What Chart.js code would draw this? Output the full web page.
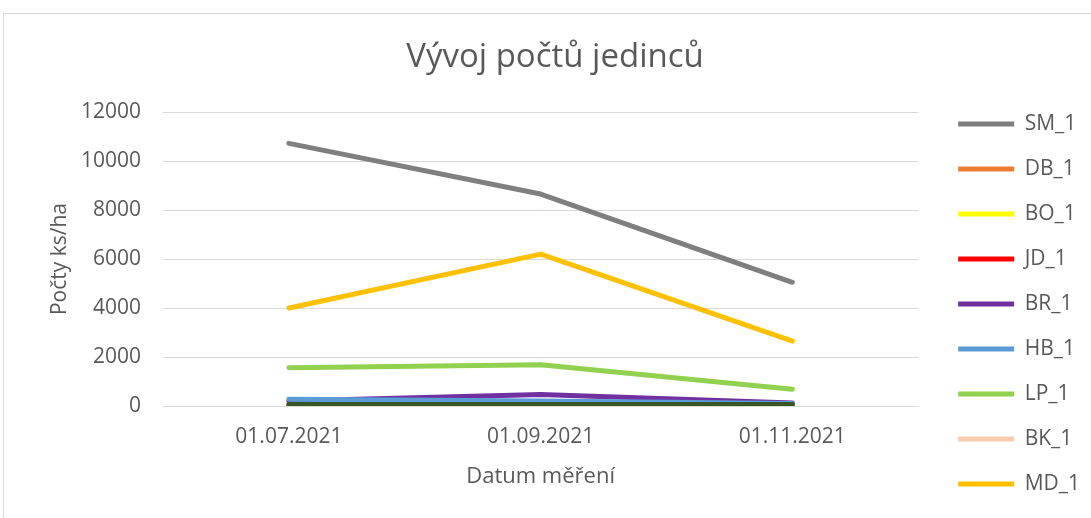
<!DOCTYPE html>
<html>
<head>
<meta charset="utf-8">
<script src="https://cdn.jsdelivr.net/npm/chart.js@4.4.0/dist/chart.umd.min.js"></script>
<style>
html, body { margin: 0; padding: 0; background: #fff; overflow: hidden; width: 1091px; height: 518px; }
#frame { position: absolute; left: 3px; top: 13px; width: 1100px; height: 625px; border: 1px solid #d9d9d9; }
</style>
</head>
<body>
<div id="frame"><canvas id="ShowChart" width="1100" height="625"></canvas></div>
<script>
var Dates = ["01.07.2021", "01.09.2021", "01.11.2021"]
var Series_Names = ["SM_1", "DB_1", "BO_1", "JD_1", "BR_1", "HB_1", "LP_1", "BK_1", "MD_1", "OL_1"]
var Series_Colors = ["#7f7f7f", "#ed7d31", "#ffff00", "#ff0000", "#7030a0", "#5b9bd5", "#92d050", "#f8cbad", "#ffc000", "#375623"]

var SM_1 = [10720, 8650, 5050]
var DB_1 = [20, 30, 10]
var BO_1 = [0, 10, 0]
var JD_1 = [10, 20, 10]
var BR_1 = [200, 470, 120]
var HB_1 = [280, 200, 100]
var LP_1 = [1560, 1680, 680]
var BK_1 = [0, 10, 0]
var MD_1 = [4000, 6200, 2650]
var OL_1 = [60, 60, 60]
var Series_Values = [SM_1, DB_1, BO_1, JD_1, BR_1, HB_1, LP_1, BK_1, MD_1, OL_1]

var Y_Ticks = [0, 2000, 4000, 6000, 8000, 10000, 12000]
var Text_Color = "#595959"
var Grid_Color = "#d9d9d9"

var Dataset = []
for (var i = 0; i < Series_Names.length; i++){
  Dataset.push({
    label: Series_Names[i],
    data: Series_Values[i],
    borderColor: Series_Colors[i],
    backgroundColor: Series_Colors[i],
    borderWidth: 5,
    borderCapStyle: "round",
    borderJoinStyle: "round",
    pointRadius: 0,
    tension: 0,
    order: -i   // later series drawn on top
  })
}

var Show_Chart = {
  type: "line",
  data: {
    labels: Dates,
    datasets: Dataset
  },
  options: {
    responsive: false,
    animation: false,
    layout: { padding: { top: 0, left: 16, bottom: 0, right: 14 } },
    plugins: {
      title: {
        display: true,
        text: "Vývoj počtů jedinců",
        color: Text_Color,
        font: { family: "Open Sans", size: 33, weight: "normal" },
        padding: { top: 24.2, bottom: 34.2 }
      },
      legend: {
        position: "right",
        labels: {
          color: Text_Color,
          font: { family: "Open Sans", size: 21 },
          usePointStyle: true,
          pointStyle: "line",
          pointStyleWidth: 56,
          padding: 24,
          sort: function(a, b){ return a.datasetIndex - b.datasetIndex }
        }
      },
      tooltip: { enabled: false }
    },
    scales: {
      x: {
        offset: true,
        grid: { display: false, drawTicks: false, offset: true },
        border: { color: Grid_Color },
        ticks: {
          color: Text_Color,
          font: { family: "Open Sans", size: 21 },
          padding: 18.4,
          maxRotation: 0,
          autoSkip: false
        },
        title: {
          display: true,
          text: "Datum měření",
          color: Text_Color,
          font: { family: "Open Sans", size: 22 },
          padding: { top: -4.2, bottom: 148.8 }
        }
      },
      y: {
        min: 0,
        max: 12000,
        afterBuildTicks: function(axis){ axis.ticks = Y_Ticks.map(function(v){ return { value: v } }) },
        grid: { color: Grid_Color, drawTicks: false },
        border: { display: false },
        ticks: {
          color: Text_Color,
          font: { family: "Open Sans", size: 21 },
          padding: 22,
          callback: function(v){ return String(v) }
        },
        title: {
          display: true,
          text: "Počty ks/ha",
          color: Text_Color,
          font: { family: "Open Sans", size: 21 },
          padding: { top: 27.4, bottom: -13.6 }
        }
      },
      gap: {
        type: "linear",
        position: "right",
        display: true,
        grid: { display: false, drawTicks: false },
        border: { display: false },
        ticks: { display: false },
        title: { display: true, text: "", font: { size: 10 }, padding: { top: 2, bottom: 2 } }
      }
    }
  }
}

var ctx = document.getElementById("ShowChart").getContext("2d")
var ChartObject = new Chart(ctx, Show_Chart)
</script>
</body>
</html>
